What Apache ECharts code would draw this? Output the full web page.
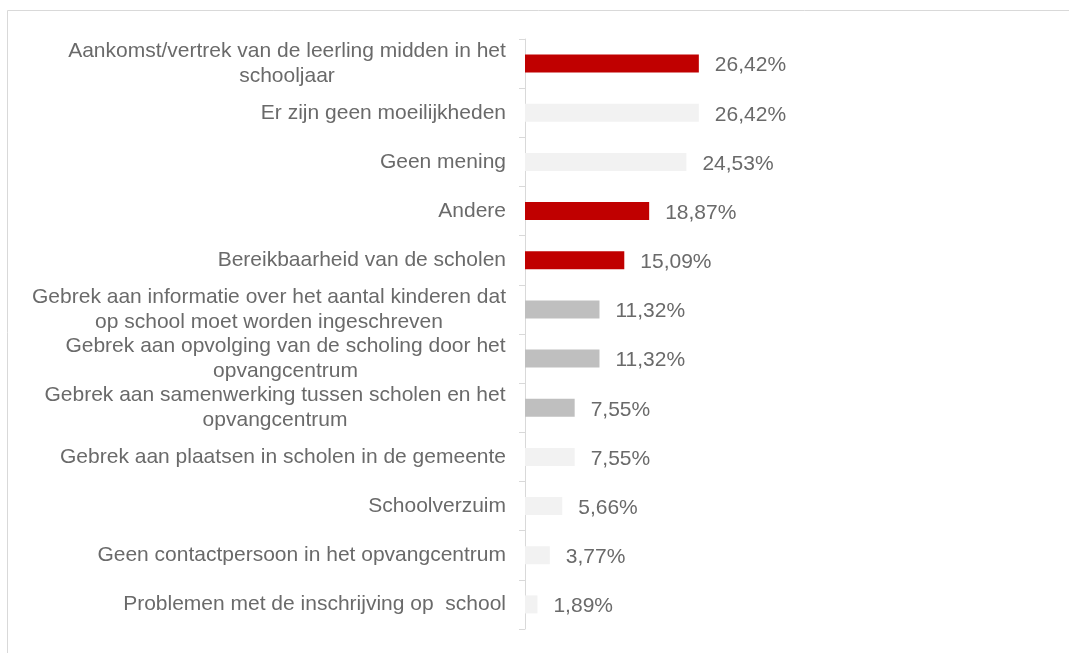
<!DOCTYPE html>
<html><head><meta charset="utf-8">
<script src="https://cdn.jsdelivr.net/npm/echarts@6/dist/echarts.min.js"></script>
<style>html,body{margin:0;padding:0;background:#fff}#c{width:1069px;height:653px}</style>
</head><body><div id="c"></div>
<script>
const categories = [
  'Aankomst/vertrek van de leerling midden in het\nschooljaar',
  'Er zijn geen moeilijkheden',
  'Geen mening',
  'Andere',
  'Bereikbaarheid van de scholen',
  'Gebrek aan informatie over het aantal kinderen dat\nop school moet worden ingeschreven',
  'Gebrek aan opvolging van de scholing door het\nopvangcentrum',
  'Gebrek aan samenwerking tussen scholen en het\nopvangcentrum',
  'Gebrek aan plaatsen in scholen in de gemeente',
  'Schoolverzuim',
  'Geen contactpersoon in het opvangcentrum',
  'Problemen met de inschrijving op  school'
];
const values = [26.42, 26.42, 24.53, 18.87, 15.09, 11.32, 11.32, 7.55, 7.55, 5.66, 3.77, 1.89];
const colorKeys = ['red','light','light','red','red','gray','gray','gray','light','light','light','light'];
const palette = {red:'#C00000', light:'#F2F2F2', gray:'#BFBFBF'};

const FONT = 21, FAMILY = '"Liberation Sans", Arial, sans-serif', TXT = '#6a6a6a', LH = 25;
const cv = document.createElement('canvas').getContext('2d');
cv.font = FONT + 'px ' + FAMILY;
const rich = {};
function widthOf(v){
  return Math.ceil(Math.max(...v.split('\n').map(l => cv.measureText(l).width)));
}
categories.forEach(v => {
  if (v.indexOf('\n') >= 0) {
    const w = widthOf(v);
    rich['c' + w] = {width: w, align: 'center', fontSize: FONT, fontFamily: FAMILY, color: TXT, lineHeight: LH};
  }
});
function fmtCat(v){
  if (v.indexOf('\n') < 0) return v;
  const w = widthOf(v);
  return v.split('\n').map(l => '{c' + w + '|' + l + '}').join('\n');
}

const chart = echarts.init(document.getElementById('c'), null, {renderer:'canvas'});
chart.setOption({
  animation: false,
  graphic: [{type:'rect', shape:{x:7.5, y:10.5, width:1070, height:660}, style:{fill:'none', stroke:'#D9D9D9', lineWidth:1}, silent:true}],
  grid: {left: 525, top: 39, bottom: 24, width: 30 * 6.58},
  xAxis: {type:'value', min:0, max:30, show:false},
  yAxis: {
    type:'category', data: categories, inverse: true,
    axisLine:{show:true, lineStyle:{color:'#D9D9D9', width:1}},
    axisTick:{show:true, length:6, lineStyle:{color:'#D9D9D9'}},
    axisLabel:{margin:19, color:TXT, fontSize:FONT, fontFamily:FAMILY, lineHeight:LH, formatter: fmtCat, rich: rich}
  },
  series: [{
    type:'bar', barWidth:18,
    data: values.map((v,i) => ({value:v, itemStyle:{color: palette[colorKeys[i]]}})),
    label:{show:true, position:'right', distance:16, offset:[0,2], color:TXT, fontSize:FONT, fontFamily:FAMILY,
      formatter: p => p.value.toFixed(2).replace('.', ',') + '%'}
  }]
});
</script></body></html>
